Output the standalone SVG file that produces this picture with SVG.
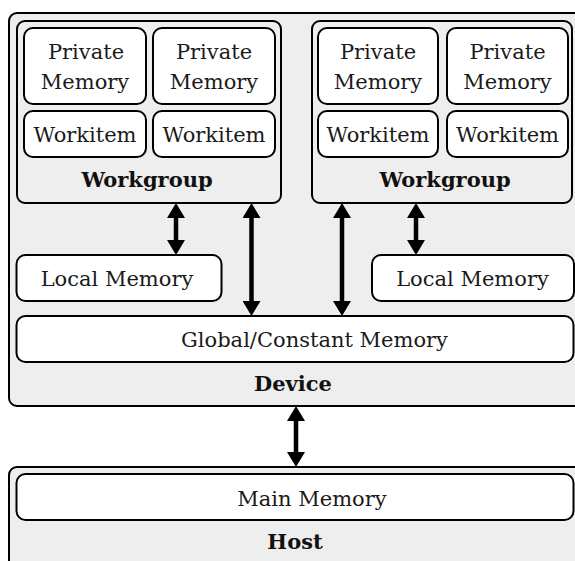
<svg xmlns="http://www.w3.org/2000/svg" width="575" height="561" viewBox="0 0 575 561">
<defs>
<style>
.outer{fill:#eeeeee;stroke:#000;stroke-width:2}
.box{fill:#fff;stroke:#000;stroke-width:2}
.t{font-family:"DejaVu Serif","Liberation Serif",serif;font-size:21px;fill:#1a1a1a;text-anchor:middle}
.b{font-family:"DejaVu Serif","Liberation Serif",serif;font-size:21px;font-weight:bold;fill:#111;text-anchor:middle}
.conn{stroke:#000;stroke-width:4.5;fill:none;marker-start:url(#ah);marker-end:url(#ah)}
</style>
<marker id="ah" viewBox="0 0 15 18" refX="3" refY="9" markerWidth="15" markerHeight="18" markerUnits="userSpaceOnUse" orient="auto-start-reverse">
<path d="M0,0 L15,9 L0,18 Z" fill="#000"/>
</marker>
</defs>
<g id="device">
<rect class="outer" x="9" y="13" width="590" height="393" rx="8"/>
<text class="b" x="293" y="391">Device</text>
</g>
<g id="host">
<rect class="outer" x="9" y="467" width="590" height="120" rx="8"/>
<text class="b" x="295" y="549">Host</text>
</g>
<g id="workgroup1">
<rect class="outer" x="17" y="21" width="264" height="182" rx="8"/>
<text class="b" x="147" y="187">Workgroup</text>
</g>
<g id="workgroup2">
<rect class="outer" x="312" y="21" width="260" height="182" rx="8"/>
<text class="b" x="445" y="187">Workgroup</text>
</g>
<g id="private1">
<rect class="box" x="24" y="28" width="122" height="76" rx="9"/>
<text class="t" x="86" y="59">Private</text>
<text class="t" x="85" y="89">Memory</text>
</g>
<g id="private2">
<rect class="box" x="153" y="28" width="122" height="76" rx="9"/>
<text class="t" x="214" y="59">Private</text>
<text class="t" x="214" y="89">Memory</text>
</g>
<g id="private3">
<rect class="box" x="318" y="28" width="120" height="76" rx="9"/>
<text class="t" x="378" y="59">Private</text>
<text class="t" x="378" y="89">Memory</text>
</g>
<g id="private4">
<rect class="box" x="447" y="28" width="121" height="76" rx="9"/>
<text class="t" x="507.5" y="59">Private</text>
<text class="t" x="507.5" y="89">Memory</text>
</g>
<g id="workitem1">
<rect class="box" x="24" y="111" width="122" height="46" rx="9"/>
<text class="t" x="85" y="141.5">Workitem</text>
</g>
<g id="workitem2">
<rect class="box" x="153" y="111" width="122" height="46" rx="9"/>
<text class="t" x="214" y="141.5">Workitem</text>
</g>
<g id="workitem3">
<rect class="box" x="318" y="111" width="120" height="46" rx="9"/>
<text class="t" x="378" y="141.5">Workitem</text>
</g>
<g id="workitem4">
<rect class="box" x="447" y="111" width="121" height="46" rx="9"/>
<text class="t" x="507.5" y="141.5">Workitem</text>
</g>
<g id="local1">
<rect class="box" x="16.5" y="255" width="205" height="46" rx="9"/>
<text class="t" x="117" y="286">Local Memory</text>
</g>
<g id="local2">
<rect class="box" x="372" y="255" width="202" height="46" rx="9"/>
<text class="t" x="472.5" y="286">Local Memory</text>
</g>
<g id="global">
<rect class="box" x="16.5" y="316" width="557" height="46" rx="9"/>
<text class="t" x="314.5" y="346.5">Global/Constant Memory</text>
</g>
<g id="mainmemory">
<rect class="box" x="16.5" y="474" width="557" height="46" rx="9"/>
<text class="t" x="312" y="506">Main Memory</text>
</g>
<g id="connectors">
<line class="conn" x1="176" y1="215" x2="176" y2="243"/>
<line class="conn" x1="251.5" y1="215" x2="251.5" y2="304"/>
<line class="conn" x1="342" y1="215" x2="342" y2="304"/>
<line class="conn" x1="416" y1="215" x2="416" y2="243"/>
<line class="conn" x1="296" y1="418" x2="296" y2="455"/>
</g>
</svg>
